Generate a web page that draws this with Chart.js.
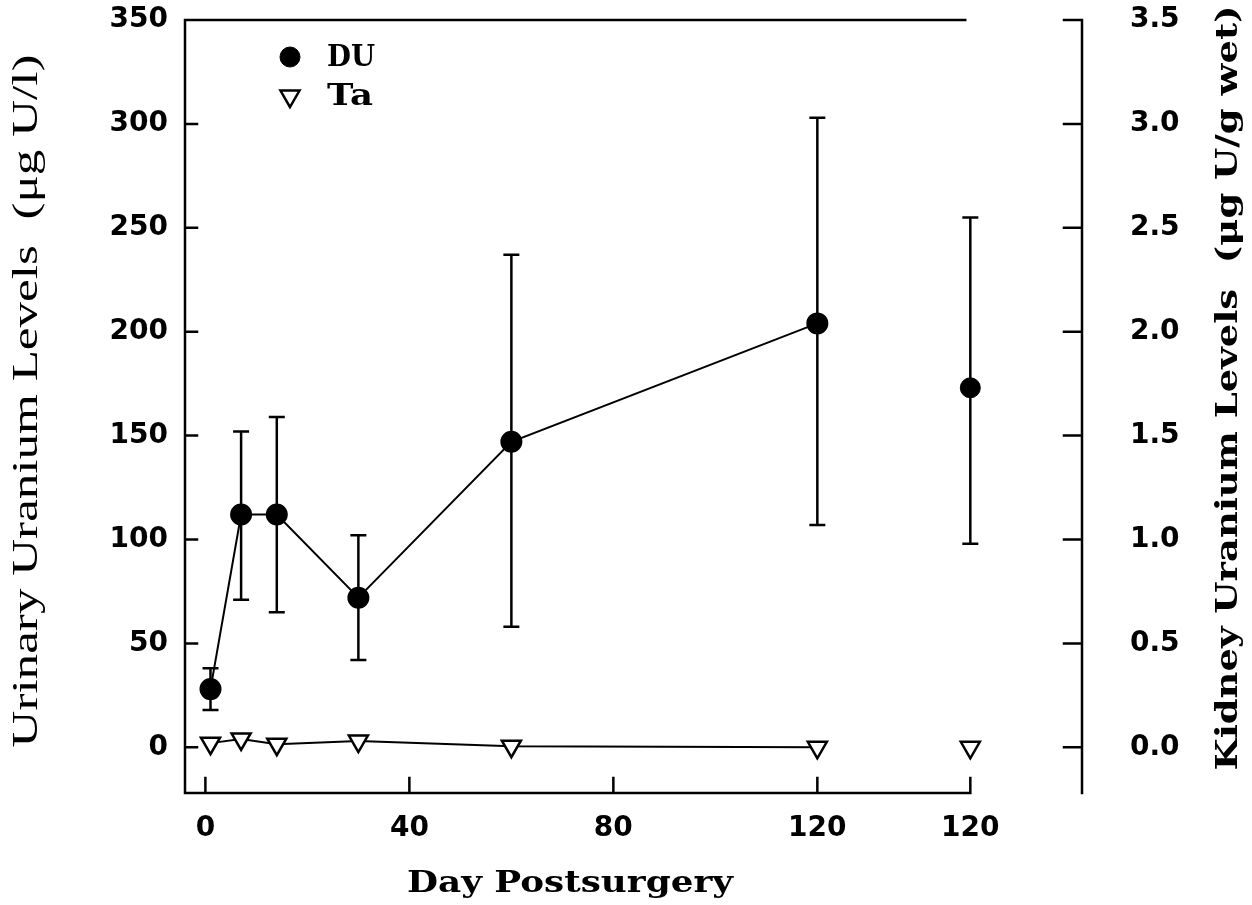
<!DOCTYPE html>
<html>
<head>
<meta charset="utf-8">
<script src="https://cdn.jsdelivr.net/npm/chart.js@4.4.1/dist/chart.umd.min.js"></script>
<style>
  html, body { margin: 0; padding: 0; background: #fff; }
</style>
</head>
<body>
<canvas id="myChart" width="1252" height="905"></canvas>
<script>
//------------------------- DATA -------------------------

// urine samples, by day after surgery
var urineDays = [1, 7, 14, 30, 60, 120];
var duUrine = [28, 112, 112, 72, 147, 204];
var duUrineLow = [18, 71, 65, 42, 58, 107];
var duUrineHigh = [38, 152, 159, 102, 237, 303];
var taUrine = [2, 4, 1.5, 3, 0.5, 0];

// kidney at day 120, put in its own slot right of the urine series
var kidneyDay = [150];
var duKidney = [1.73];
var duKidneyLow = [0.98];
var duKidneyHigh = [2.55];
var taKidney = [0];

var xTicks = [0, 40, 80, 120, 150];
var xTickLabels = ['0', '40', '80', '120', '120'];
var leftTicks = [0, 50, 100, 150, 200, 250, 300, 350];
var rightTicks = [0, 0.5, 1, 1.5, 2, 2.5, 3, 3.5];

function points(xs, ys) {
    var out = [];
    for (let i = 0; i < xs.length; i++) {
        out.push({ x: xs[i], y: ys[i] });
    }
    return out;
}

//------------------------- HELPERS -------------------------

// text squeezed/stretched to a given length along its baseline
function drawFitted(ctx, text, x, y, angle, font, length, squash, align) {
    ctx.save();
    ctx.font = font;
    var w = ctx.measureText(text).width;
    ctx.translate(x, y);
    ctx.rotate(angle);
    ctx.scale(length / w, squash);
    ctx.textAlign = align || 'center';
    ctx.textBaseline = 'middle';
    ctx.fillStyle = '#000';
    ctx.fillText(text, 0, 0);
    ctx.restore();
}

var tickFont = { family: 'DejaVu Sans', size: 28, weight: 'bold' };
var typeFont = 'bold 30px "DejaVu Serif"';

// invisible tick marks, only used to push the labels away from the axis
function spacer(len) {
    return { display: true, drawOnChartArea: false, drawTicks: true, tickLength: len, color: 'rgba(0,0,0,0)' };
}

//------------------------- PLUGINS -------------------------

var framePlugin = {
    id: 'frame',
    beforeDatasetsDraw: function (chart) {
        var ctx = chart.ctx;
        var a = chart.chartArea;
        var sx = chart.scales.x, sy = chart.scales.y, sy2 = chart.scales.y2;
        ctx.save();
        ctx.strokeStyle = '#000';
        ctx.lineWidth = 2.5;
        ctx.lineCap = 'square';
        ctx.beginPath();
        ctx.moveTo(sx.getPixelForValue(149), a.top);
        ctx.lineTo(a.left, a.top);
        ctx.lineTo(a.left, a.bottom);
        ctx.lineTo(sx.getPixelForValue(150), a.bottom);
        ctx.moveTo(a.right, a.top);
        ctx.lineTo(a.right, a.bottom);
        leftTicks.forEach(function (v) {
            var py = sy.getPixelForValue(v);
            ctx.moveTo(a.left, py);
            ctx.lineTo(a.left + 12, py);
        });
        rightTicks.forEach(function (v) {
            var py = sy2.getPixelForValue(v);
            ctx.moveTo(a.right, py);
            ctx.lineTo(a.right - 18, py);
        });
        xTicks.forEach(function (v) {
            var px = sx.getPixelForValue(v);
            ctx.moveTo(px, a.bottom);
            ctx.lineTo(px, a.bottom - 15);
        });
        ctx.stroke();

        // error bars (mean +/- sd)
        ctx.lineWidth = 2.5;
        ctx.lineCap = 'butt';
        chart.data.datasets.forEach(function (ds, i) {
            if (!ds.errLow) return;
            var scale = chart.scales[ds.yAxisID];
            chart.getDatasetMeta(i).data.forEach(function (pt, j) {
                var top = scale.getPixelForValue(ds.errHigh[j]);
                var bot = scale.getPixelForValue(ds.errLow[j]);
                ctx.beginPath();
                ctx.moveTo(pt.x, top);
                ctx.lineTo(pt.x, bot);
                ctx.moveTo(pt.x - 8, top);
                ctx.lineTo(pt.x + 8, top);
                ctx.moveTo(pt.x - 8, bot);
                ctx.lineTo(pt.x + 8, bot);
                ctx.stroke();
            });
        });
        ctx.restore();
    },
    afterDraw: function (chart) {
        var ctx = chart.ctx;
        var ds = chart.data.datasets;

        // legend
        ctx.save();
        ctx.strokeStyle = '#000';
        ctx.fillStyle = '#000';
        Chart.helpers.drawPoint(ctx, { pointStyle: 'circle', radius: 10, rotation: 0, borderWidth: 1 }, 290, 57);
        ctx.fillStyle = '#fff';
        ctx.lineWidth = 2.5;
        Chart.helpers.drawPoint(ctx, { pointStyle: 'triangle', radius: 11, rotation: 180, borderWidth: 2.5 }, 290, 96);
        ctx.restore();
        drawFitted(ctx, ds[0].label, 327, 58, 0, typeFont, 48, 1, 'left');
        drawFitted(ctx, ds[1].label, 327, 97, 0, typeFont, 46, 1, 'left');

        // axis titles
        drawFitted(ctx, 'Day Postsurgery', 570, 884, 0, typeFont, 326, 1);
        drawFitted(ctx, 'Urinary Uranium Levels  (\u03bcg U/l)', 28, 401, -Math.PI / 2,
            '44px "Liberation Serif"', 693, 0.82);
        drawFitted(ctx, 'Kidney Uranium Levels  (\u03bcg U/g wet)', 1229, 388, -Math.PI / 2,
            typeFont, 765, 1);
    }
};

//------------------------- CHART -------------------------

var ctx = document.getElementById('myChart').getContext('2d');
var chart = new Chart(ctx, {
    type: 'line',
    data: {
        datasets: [{
            label: 'DU',
            data: points(urineDays, duUrine),
            errLow: duUrineLow,
            errHigh: duUrineHigh,
            yAxisID: 'y',
            borderColor: '#000',
            borderWidth: 2,
            pointStyle: 'circle',
            pointRadius: 10,
            pointBackgroundColor: '#000',
            pointBorderColor: '#000',
            tension: 0
        }, {
            label: 'Ta',
            data: points(urineDays, taUrine),
            yAxisID: 'y',
            borderColor: '#000',
            borderWidth: 2,
            pointStyle: 'triangle',
            pointRotation: 180,
            pointRadius: 11,
            pointBackgroundColor: '#fff',
            pointBorderColor: '#000',
            pointBorderWidth: 2.5,
            tension: 0
        }, {
            label: 'DU kidney',
            data: points(kidneyDay, duKidney),
            errLow: duKidneyLow,
            errHigh: duKidneyHigh,
            yAxisID: 'y2',
            showLine: false,
            pointStyle: 'circle',
            pointRadius: 10,
            pointBackgroundColor: '#000',
            pointBorderColor: '#000'
        }, {
            label: 'Ta kidney',
            data: points(kidneyDay, taKidney),
            yAxisID: 'y2',
            showLine: false,
            pointStyle: 'triangle',
            pointRotation: 180,
            pointRadius: 11,
            pointBackgroundColor: '#fff',
            pointBorderColor: '#000',
            pointBorderWidth: 2.5
        }]
    },
    options: {
        responsive: false,
        devicePixelRatio: 1,
        animation: false,
        events: [],
        layout: { padding: { top: 20, left: 0, right: 0, bottom: 0 } },
        plugins: {
            legend: { display: false },
            tooltip: { enabled: false }
        },
        scales: {
            x: {
                type: 'linear',
                min: -4,
                max: 171.9,
                afterFit: function (s) { s.height = 112; },
                afterBuildTicks: function (s) {
                    s.ticks = xTicks.map(function (v) { return { value: v }; });
                },
                grid: { display: false },
                border: { display: false },
                ticks: {
                    autoSkip: false,
                    maxRotation: 0,
                    padding: 11,
                    color: '#000',
                    font: tickFont,
                    callback: function (v, i) { return xTickLabels[i]; }
                }
            },
            y: {
                position: 'left',
                min: -22,
                max: 350,
                afterFit: function (s) { s.width = 185; },
                afterBuildTicks: function (s) {
                    s.ticks = leftTicks.map(function (v) { return { value: v }; });
                },
                grid: spacer(15),
                border: { display: false },
                ticks: { padding: 2, color: '#000', font: tickFont }
            },
            y2: {
                position: 'right',
                min: -0.22,
                max: 3.5,
                afterFit: function (s) { s.width = 170; },
                afterBuildTicks: function (s) {
                    s.ticks = rightTicks.map(function (v) { return { value: v }; });
                },
                grid: spacer(46),
                border: { display: false },
                ticks: {
                    padding: 2,
                    color: '#000',
                    font: tickFont,
                    callback: function (v) { return v.toFixed(1); }
                }
            }
        }
    },
    plugins: [framePlugin]
});
</script>
</body>
</html>
